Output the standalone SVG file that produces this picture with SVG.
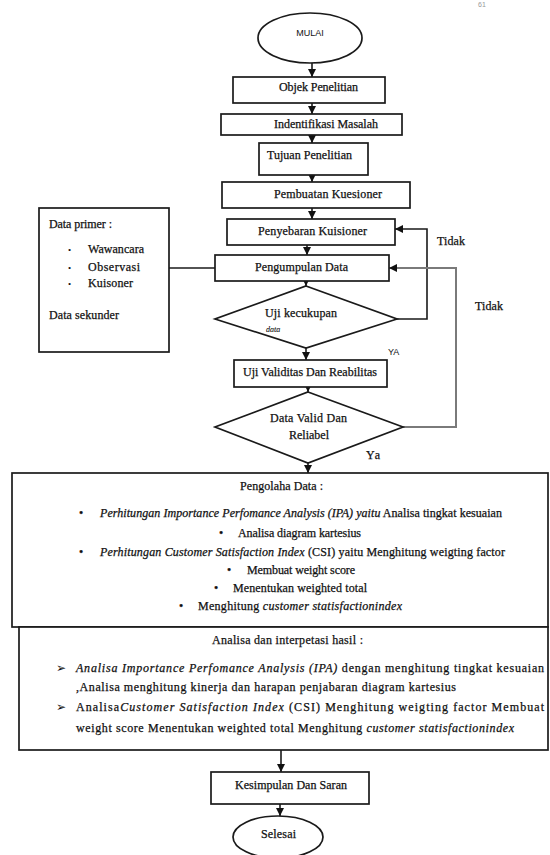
<svg xmlns="http://www.w3.org/2000/svg" width="550" height="855" viewBox="0 0 550 855">
<style>
.bg{fill:#fff}
.box{fill:#fff;stroke:#1a1a1a;stroke-width:1.7}
.t{font-family:"Liberation Serif","Times New Roman",serif;font-size:12px;fill:#111;stroke:#111;stroke-width:0.25}
.c{text-anchor:middle}
.s{font-family:"Liberation Sans",Arial,sans-serif;font-size:9px;fill:#111}
.i{font-style:italic}
.ln{fill:none;stroke:#1a1a1a;stroke-width:1.6}
.gr{fill:none;stroke:#7a7a7a;stroke-width:2}
.ar{font-family:"DejaVu Sans",sans-serif;font-size:12px;fill:#111}
.dot{font-family:"Liberation Serif",serif;font-size:9px;fill:#111}
</style>
<defs>
<marker id="ah" viewBox="0 0 10 10" refX="10" refY="5" markerWidth="8" markerHeight="8" markerUnits="userSpaceOnUse" orient="auto">
<path d="M0,0 L10,5 L0,10 z" fill="#111"/>
</marker>
</defs>
<rect class="bg" x="0" y="0" width="550" height="855"/>
<text x="478" y="7" style="font-family:'Liberation Sans',Arial,sans-serif;font-size:7px;fill:#999">61</text>

<g id="connectors">
<line class="ln" x1="312" y1="63" x2="312" y2="77" marker-end="url(#ah)"/>
<line class="ln" x1="312" y1="103" x2="312" y2="114" marker-end="url(#ah)"/>
<line class="ln" x1="312" y1="135" x2="312" y2="143" marker-end="url(#ah)"/>
<line class="ln" x1="312" y1="175" x2="312" y2="182" marker-end="url(#ah)"/>
<line class="ln" x1="312" y1="208" x2="312" y2="219" marker-end="url(#ah)"/>
<line class="ln" x1="307" y1="245" x2="307" y2="255" marker-end="url(#ah)"/>
<line class="ln" x1="306" y1="281" x2="306" y2="286" marker-end="url(#ah)"/>
<line class="ln" x1="169" y1="268" x2="215" y2="268"/>
<polyline class="ln" points="397,319 427,319 427,229 395,229" marker-end="url(#ah)"/>
<line class="ln" x1="306" y1="348" x2="306" y2="360" marker-end="url(#ah)"/>
<line class="ln" x1="308" y1="387" x2="308" y2="392" marker-end="url(#ah)"/>
<polyline class="gr" points="403,427 456,427 456,268 389,268" marker-end="url(#ah)"/>
<line class="ln" x1="308" y1="463" x2="308" y2="473" marker-end="url(#ah)"/>
<line class="ln" x1="281" y1="750" x2="281" y2="772" marker-end="url(#ah)"/>
<line class="ln" x1="280" y1="804" x2="280" y2="816" marker-end="url(#ah)"/>
<text class="t" x="437" y="245" textLength="28">Tidak</text>
<text class="s" x="388" y="355">YA</text>
<text class="t" x="475" y="310" textLength="28">Tidak</text>
<text class="t" x="366" y="459" textLength="14">Ya</text>
</g>

<g id="mulai">
<ellipse class="box" cx="310" cy="38" rx="52" ry="25"/>
<text class="s c" x="310" y="36">MULAI</text>
</g>
<g id="objek">
<rect class="box" x="233" y="77" width="152" height="26"/>
<text class="t c" x="318.5" y="91" textLength="79">Objek Penelitian</text>
</g>
<g id="identifikasi">
<rect class="box" x="221" y="114" width="181" height="21"/>
<text class="t c" x="326" y="128" textLength="104">Indentifikasi Masalah</text>
</g>
<g id="tujuan">
<rect class="box" x="259" y="143" width="109" height="32"/>
<text class="t c" x="309.5" y="159" textLength="85">Tujuan Penelitian</text>
</g>
<g id="pembuatan">
<rect class="box" x="222" y="182" width="188" height="26"/>
<text class="t c" x="328" y="198" textLength="108">Pembuatan Kuesioner</text>
</g>
<g id="penyebaran">
<rect class="box" x="227" y="219" width="168" height="26"/>
<text class="t c" x="312.5" y="235" textLength="109">Penyebaran Kuisioner</text>
</g>
<g id="pengumpulan">
<rect class="box" x="215" y="255" width="174" height="26"/>
<text class="t c" x="301.5" y="271" textLength="93">Pengumpulan Data</text>
</g>
<g id="datasumber">
<rect class="box" x="39" y="208" width="130" height="144"/>
<text class="t" x="49" y="228" textLength="63">Data primer :</text>
<text class="dot" x="68" y="253">•</text>
<text class="t" x="88" y="253" textLength="56">Wawancara</text>
<text class="dot" x="68" y="271">•</text>
<text class="t" x="88" y="271" textLength="52">Observasi</text>
<text class="dot" x="68" y="287">•</text>
<text class="t" x="88" y="287" textLength="45">Kuisoner</text>
<text class="t" x="49" y="319" textLength="70">Data sekunder</text>
</g>
<g id="kecukupan">
<polygon class="box" points="306,286 397,319 306,348 215,319"/>
<text class="t" x="265" y="317" textLength="72">Uji kecukupan</text>
<text class="t i" x="266" y="332" style="font-size:8px;stroke-width:0.1">data</text>
</g>
<g id="validitas">
<rect class="box" x="234" y="360" width="153" height="27"/>
<text class="t" x="243" y="376" textLength="134">Uji Validitas Dan Reabilitas</text>
</g>
<g id="validreliabel">
<polygon class="box" points="308,392 403,427 308,463 215,427"/>
<text class="t" x="270" y="422" textLength="77">Data  Valid Dan</text>
<text class="t" x="289" y="439" textLength="40">Reliabel</text>
</g>
<g id="pengolahan">
<rect class="box" x="12" y="473" width="536" height="154"/>
<text class="t" x="240" y="490" textLength="83">Pengolaha Data :</text>
<text class="t" x="79" y="517">•</text>
<text class="t" x="100" y="517" textLength="402"><tspan class="i">Perhitungan Importance Perfomance Analysis (IPA) yaitu</tspan> Analisa tingkat kesuaian</text>
<text class="t" x="219" y="537">•</text>
<text class="t" x="238" y="537" textLength="123">Analisa diagram kartesius</text>
<text class="t" x="79" y="556">•</text>
<text class="t" x="100" y="556" textLength="405"><tspan class="i">Perhitungan Customer Satisfaction Index</tspan> (CSI)  yaitu Menghitung weigting factor</text>
<text class="t" x="227" y="574">•</text>
<text class="t" x="247" y="574" textLength="108">Membuat weight score</text>
<text class="t" x="214" y="592">•</text>
<text class="t" x="233" y="592" textLength="134">Menentukan weighted total</text>
<text class="t" x="179" y="610">•</text>
<text class="t" x="198" y="610" textLength="204">Menghitung  <tspan class="i">customer statisfactionindex</tspan></text>
</g>
<g id="analisa">
<rect class="box" x="19" y="627" width="529" height="123"/>
<text class="t" x="212" y="644" textLength="151">Analisa dan interpetasi hasil :</text>
<text class="ar" x="56" y="672">➢</text>
<text class="t" x="76" y="672" textLength="468" lengthAdjust="spacing"><tspan class="i">Analisa Importance Perfomance Analysis (IPA)</tspan> dengan menghitung  tingkat kesuaian</text>
<text class="t" x="76" y="691" textLength="380">,Analisa menghitung kinerja dan harapan penjabaran diagram kartesius</text>
<text class="ar" x="56" y="711">➢</text>
<text class="t" x="76" y="711" textLength="468" lengthAdjust="spacing">Analisa<tspan class="i">Customer Satisfaction Index</tspan> (CSI) Menghitung weigting factor Membuat</text>
<text class="t" x="76" y="732" textLength="438">weight score Menentukan weighted total Menghitung  <tspan class="i">customer statisfactionindex</tspan></text>
</g>
<g id="kesimpulan">
<rect class="box" x="211" y="772" width="158" height="32"/>
<text class="t" x="235" y="789" textLength="112">Kesimpulan Dan Saran</text>
</g>
<g id="selesai">
<ellipse class="box" cx="278" cy="837" rx="45" ry="21"/>
<text class="t" x="261" y="838" textLength="35">Selesai</text>
</g>
</svg>
